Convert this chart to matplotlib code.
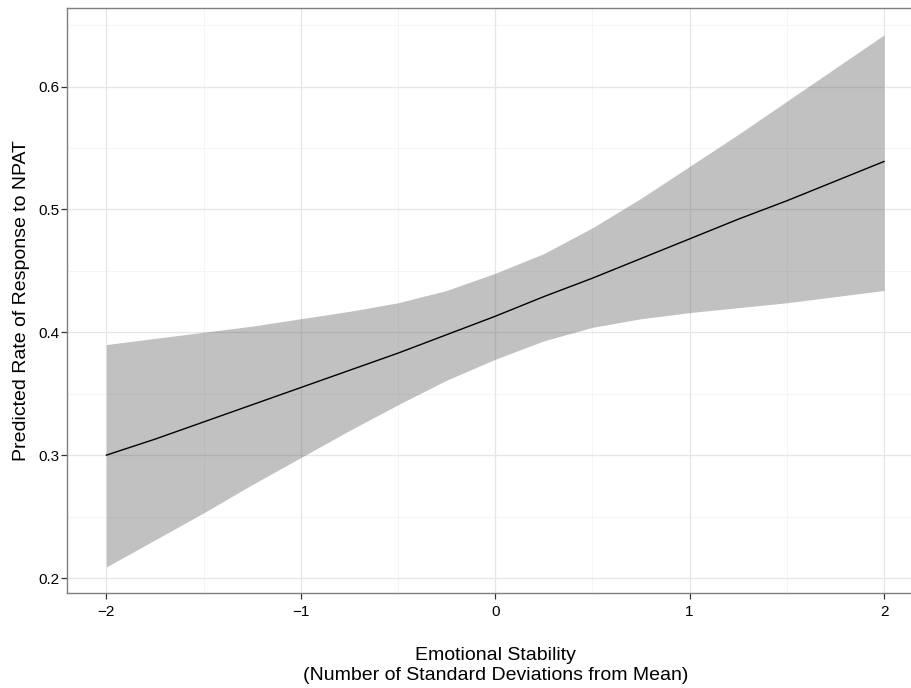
import matplotlib
matplotlib.use("Agg")
import matplotlib.pyplot as plt
import numpy as np

# Predicted values
stability = [-2, -1.75, -1.5, -1.25, -1, -0.75, -0.5, -0.25, 0,
             0.25, 0.5, 0.75, 1, 1.25, 1.5, 1.75, 2]
fit = [0.300, 0.313, 0.327, 0.341, 0.355, 0.369, 0.383, 0.398, 0.413,
       0.429, 0.444, 0.460, 0.476, 0.492, 0.507, 0.523, 0.539]
upper = [0.390, 0.395, 0.400, 0.405, 0.411, 0.417, 0.424, 0.434, 0.448,
         0.464, 0.485, 0.509, 0.535, 0.561, 0.588, 0.615, 0.642]
lower = [0.209, 0.231, 0.253, 0.276, 0.298, 0.320, 0.341, 0.361, 0.378,
         0.393, 0.404, 0.411, 0.416, 0.420, 0.424, 0.429, 0.434]

x_ticks = [-2, -1, 0, 1, 2]
x_labels = ["\u22122", "\u22121", "0", "1", "2"]
y_ticks = [0.2, 0.3, 0.4, 0.5, 0.6]
y_labels = ["0.2", "0.3", "0.4", "0.5", "0.6"]

plt.rcParams['font.family'] = ['Liberation Sans', 'DejaVu Sans']

W, H = 912, 688
fig = plt.figure(figsize=(W / 100, H / 100), dpi=100)

# panel in pixels (right edge runs off the picture like the reference)
left, right, top, bottom = 67.5, 922.9, 7.5, 593
ax = fig.add_axes([left / W, (H - bottom) / H, (right - left) / W, (bottom - top) / H])

ax.set_xlim(-2.2, 2.2)
ax.set_ylim(0.1878, 0.6643)

# grid
for v in [-1.5, -0.5, 0.5, 1.5]:
    ax.axvline(v, color="#F4F4F4", lw=0.6, zorder=0)
for v in [0.25, 0.35, 0.45, 0.55, 0.65]:
    ax.axhline(v, color="#F4F4F4", lw=0.6, zorder=0)
for v in x_ticks:
    ax.axvline(v, color="#E6E6E6", lw=0.9, zorder=0)
for v in y_ticks:
    ax.axhline(v, color="#E6E6E6", lw=0.9, zorder=0)

ax.fill_between(stability, lower, upper, color="#333333", alpha=0.3, lw=0, zorder=1)
ax.plot(stability, fit, color="black", lw=1.0, zorder=2)

ax.set_xticks(x_ticks)
ax.set_xticklabels(x_labels)
ax.set_yticks(y_ticks)
ax.set_yticklabels(y_labels)
ax.tick_params(direction="out", length=4, width=0.9, color="#333333",
               labelsize=11, labelcolor="black")
ax.tick_params(axis="x", pad=5)
ax.tick_params(axis="y", pad=2)

for s in ax.spines.values():
    s.set_color("#7F7F7F")
    s.set_linewidth(1.0)
ax.spines["right"].set_visible(False)

ax.set_xlabel("Emotional Stability\n(Number of Standard Deviations from Mean)",
              fontsize=14, labelpad=20, linespacing=1.2)
ax.set_ylabel("Predicted Rate of Response to NPAT", fontsize=14, labelpad=6)

fig.savefig("out.png", dpi=100)
